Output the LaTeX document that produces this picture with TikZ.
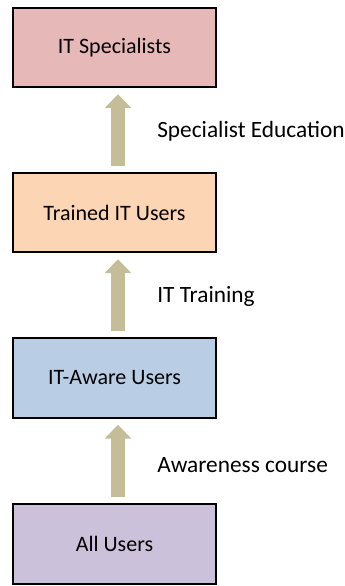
\documentclass[tikz,border=0pt]{standalone}
\usepackage{fontspec}
\setmainfont{Carlito}
\usetikzlibrary{arrows.meta,calc}
\definecolor{boxpink}{HTML}{E6B9B8}
\definecolor{boxpeach}{HTML}{FCD5B5}
\definecolor{boxblue}{HTML}{B9CDE5}
\definecolor{boxlilac}{HTML}{CCC1DA}
\definecolor{arrowtan}{HTML}{C4BD97}
\begin{document}
\begin{tikzpicture}[x=0.75pt,y=-0.75pt,
  level/.style={draw=black,line width=1.6pt,rectangle,minimum width=152pt,minimum height=59.5pt,
    inner sep=0pt,font=\fontsize{16.5}{19}\selectfont},
  uparrow/.style={draw=arrowtan,line width=10.5pt,
    -{Triangle[width=19.5pt,length=10.5pt]}},
  steplabel/.style={anchor=west,inner sep=0pt,font=\fontsize{17.5}{20}\selectfont}]
\useasboundingbox (0,0) rectangle (344,586);
\node[level,fill=boxpink]  (spec)    at (114.5,47.5)  {IT Specialists};
\node[level,fill=boxpeach] (trained) at (114.5,212.5) {Trained IT Users};
\node[level,fill=boxblue]  (aware)   at (114.5,378)   {IT-Aware Users};
\node[level,fill=boxlilac] (all)     at (114.5,544)   {All Users};
% arrows between levels, shifted slightly right of the box centres
\draw[uparrow] ($(trained.north)+(3.5,-6)$) -- ($(spec.south)+(3.5,6)$);
\draw[uparrow] ($(aware.north)+(3.5,-6)$) -- ($(trained.south)+(3.5,6)$);
\draw[uparrow] ($(all.north)+(3.5,-6)$) -- ($(aware.south)+(3.5,6)$);
\node[steplabel] (l1) at (157,131) {Specialist Education};
\node[steplabel] (l2) at (157,296) {IT Training};
\node[steplabel] (l3) at (157,465) {Awareness course};
\end{tikzpicture}
\end{document}
